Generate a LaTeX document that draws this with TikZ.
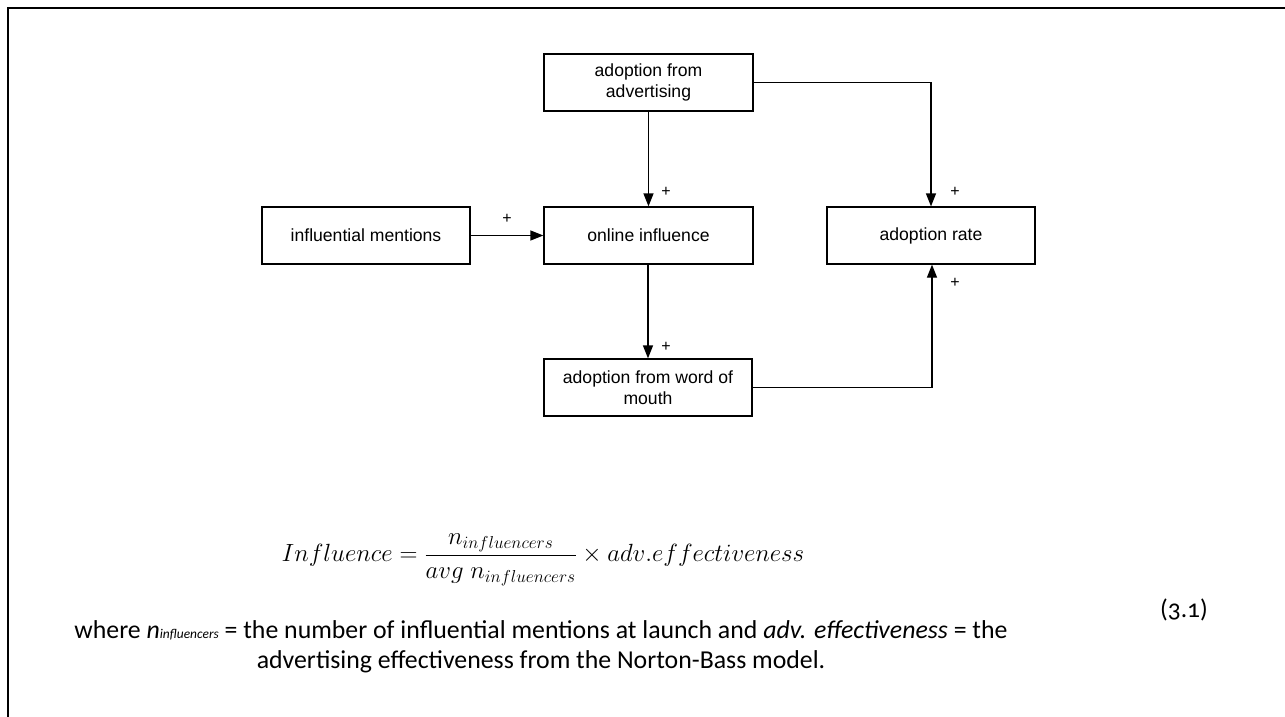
\documentclass[tikz,border=0pt]{standalone}
\usepackage{fontspec}
\setmainfont{Liberation Sans}
\newfontfamily\corb[Numbers=OldStyle]{Carlito}
\usetikzlibrary{arrows.meta}
\begin{document}
\begin{tikzpicture}[x=1pt,y=-1pt,
  box/.style={draw, line width=1.2pt, minimum width=209pt, minimum height=57pt, inner sep=0pt, align=center, font=\fontsize{17.6}{20.5}\selectfont},
  conn/.style={line width=1.2pt, -{Triangle[length=13pt,width=10pt]}},
  pl/.style={font=\fontsize{16}{18}\selectfont, inner sep=0pt},
  frame/.style={line width=2.2pt}]
\useasboundingbox (0,0) rectangle (1285,717);
\coordinate (fa) at (8,717);
\coordinate (fb) at (8,8);
\coordinate (fc) at (1285,8);
\draw[frame] (fa) -- (fb) -- (fc);

\node[box] (adv)  at (648.5,82.5)  {adoption from\\advertising};
\node[box] (onl)  at (648.5,235.5) {online influence};
\node[box, minimum width=208pt] (inf)  at (366,235.5)   {influential mentions};
\node[box, minimum width=208pt] (rate) at (931,235.5)   {adoption rate};
\node[box, minimum width=208pt] (wom)  at (648,387.5)   {adoption from word of\\mouth};

\draw[conn] (adv) -- (onl);
\draw[conn] (adv.east) -| (rate.north);
\draw[conn] (inf) -- (onl);
\draw[conn] (onl.south -| wom) -- (wom.north);
\draw[conn] (wom.east) -| ([xshift=1pt]rate.south);

\node[pl] (p1) at (666,192) {+};
\node[pl] (p2) at (507,219) {+};
\node[pl] (p3) at (955,192) {+};
\node[pl] (p4) at (955,283) {+};
\node[pl] (p5) at (666,347) {+};

\node[font=\fontsize{24}{28}\selectfont] (eq) at (543,560)
  {$\displaystyle Influence=\frac{n_{influencers}}{avg\ n_{influencers}}\times adv.effectiveness$};
\node[font=\corb\fontsize{25.5}{29}\selectfont] (num) at (1184,610) {(3.1)};
\node[font=\corb\fontsize{25.8}{29.5}\selectfont, align=center] (txt) at (541,647)
  {where \textit{n}{\fontsize{13.4}{14}\selectfont\itshape influencers} = the number of influential mentions at launch and \textit{adv. effectiveness} = the\\advertising effectiveness from the Norton-Bass model.};
\end{tikzpicture}
\end{document}
